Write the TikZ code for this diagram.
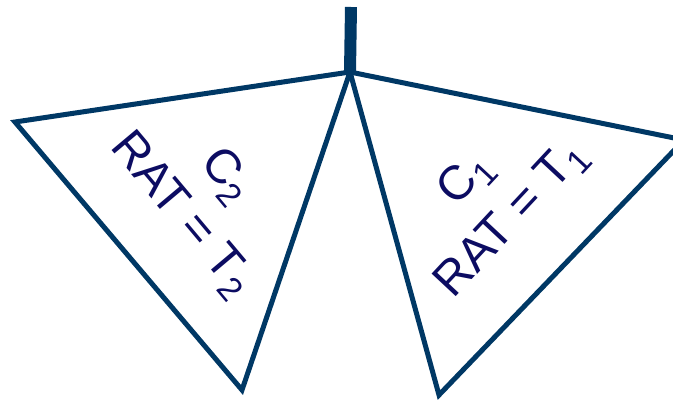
\documentclass[tikz,border=0pt]{standalone}
\usepackage{fontspec}
\setmainfont{Liberation Sans}
\definecolor{edgeblue}{RGB}{0,56,101}
\definecolor{textnavy}{RGB}{12,12,98}
\newcommand{\lowsub}[1]{\raisebox{-0.2em}{\fontsize{34}{36}\selectfont #1}}

\begin{document}
\begin{tikzpicture}[x=1pt,y=-1pt]
\tikzset{
  branch/.style={draw=edgeblue,line width=5pt,line join=miter},
  stem/.style={draw=edgeblue,line width=12pt},
  condlabel/.style={text=textnavy,font=\fontsize{48}{52}\selectfont,inner sep=0pt}
}
\useasboundingbox (0,0) rectangle (673,401);
\clip (0,0) rectangle (673,401);
\coordinate (top) at (351,7);
\coordinate (apex) at (350,72);
\coordinate (l_out) at (15,122);
\coordinate (l_low) at (242,390);
\coordinate (r_out) at (684,140);
\coordinate (r_low) at (439,395);
\draw[stem] (top) -- (apex);
\draw[branch] (apex) -- (l_out) -- (l_low) -- cycle;
\draw[branch] (apex) -- (r_out) -- (r_low) -- cycle;
\node[condlabel,rotate=-50] (c_2) at (226,176) {C\lowsub{2}};
\node[condlabel,rotate=-50] (rat_2) at (181,215) {RAT = T\lowsub{2}};
\node[condlabel,rotate=47] (c_1) at (466,180) {C\lowsub{1}};
\node[condlabel,rotate=47] (rat_1) at (512,220) {RAT = T\lowsub{1}};
\end{tikzpicture}
\end{document}
